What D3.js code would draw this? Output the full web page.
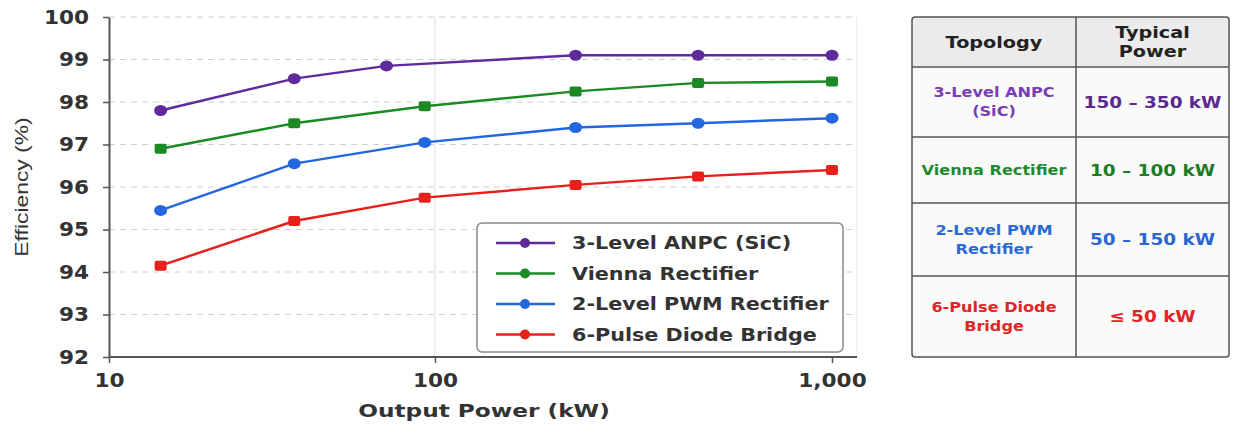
<!DOCTYPE html>
<html>
<head>
<meta charset="utf-8">
<script src="https://cdn.jsdelivr.net/npm/d3@7"></script>
<style>
  html, body { margin: 0; padding: 0; background: #ffffff; }
  svg { display: block; }
</style>
</head>
<body>
<div id="chart"></div>
<script>
/* Rectifier efficiency vs output power + topology table */

// ---- data ----
const seriesNames = ['3-Level ANPC (SiC)', 'Vienna Rectifier', '2-Level PWM Rectifier', '6-Pulse Diode Bridge'];
const seriesColors = ['#5f2a9c', '#1b8a24', '#2266e0', '#e8201c'];
const seriesShapes = ['circle', 'square', 'circle', 'square'];

const powerAnpc  = [14.4, 37, 71, 226, 460, 1000];
const powerOther = [14.4, 37, 93, 226, 460, 1000];

const effAnpc   = [97.8, 98.55, 98.85, 99.1, 99.1, 99.1];
const effVienna = [96.9, 97.5, 97.9, 98.25, 98.45, 98.48];
const effPwm    = [95.45, 96.55, 97.05, 97.4, 97.5, 97.62];
const effDiode  = [94.15, 95.2, 95.75, 96.05, 96.25, 96.4];

const yTicks = [92, 93, 94, 95, 96, 97, 98, 99, 100];
const xTicks = [10, 100, 1000];

const tableHeader = [['Topology'], ['Typical', 'Power']];
const tableTopology = [['3-Level ANPC', '(SiC)'], ['Vienna Rectifier'], ['2-Level PWM', 'Rectifier'], ['6-Pulse Diode', 'Bridge']];
const tablePower = ['150 – 350 kW', '10 – 100 kW', '50 – 150 kW', '≤ 50 kW'];
const tableNameColors = ['#7a3db5', '#1f8a2c', '#2a6ad8', '#e42424'];
const tablePowerColors = ['#5a2a8e', '#1a7d24', '#2a66d4', '#e42424'];

const series = [
  {name: seriesNames[0], x: powerAnpc,  y: effAnpc},
  {name: seriesNames[1], x: powerOther, y: effVienna},
  {name: seriesNames[2], x: powerOther, y: effPwm},
  {name: seriesNames[3], x: powerOther, y: effDiode}
].map((s, i) => ({...s, color: seriesColors[i], shape: seriesShapes[i],
  pts: s.x.map((v, j) => ({x: v, y: s.y[j]}))}));

// ---- layout ----
const W = 1233, H = 425;
const plot = {left: 109, right: 857, top: 17, bottom: 357};

const svg = d3.select('#chart').append('svg').attr('width', W).attr('height', H);
svg.append('rect').attr('width', W).attr('height', H).attr('fill', '#fff');

// the source axis is not evenly spaced per decade, so use a piecewise log scale
const x = d3.scaleLog().domain(xTicks).range([plot.left, 435, 832]);
const y = d3.scaleLinear().domain([92, 100]).range([plot.bottom, plot.top]);

const font = 'DejaVu Sans, sans-serif';

// the reference lettering is wide; stretch glyphs horizontally
function stretch(sel, k) {
  sel.each(function() {
    const w = this.getComputedTextLength();
    this.setAttribute('textLength', w * k);
    this.setAttribute('lengthAdjust', 'spacingAndGlyphs');
  });
}

// grid
const grid = svg.append('g');
grid.selectAll('line.h').data(yTicks.slice(1)).join('line')
  .attr('x1', plot.left).attr('x2', plot.right)
  .attr('y1', d => y(d)).attr('y2', d => y(d))
  .attr('stroke', '#cfcfcf').attr('stroke-width', 1).attr('stroke-dasharray', '6,5');
grid.append('line')
  .attr('x1', x(100)).attr('x2', x(100)).attr('y1', plot.top).attr('y2', plot.bottom)
  .attr('stroke', '#e4e4e4').attr('stroke-width', 1.2);
grid.append('line')
  .attr('x1', plot.right).attr('x2', plot.right).attr('y1', plot.top).attr('y2', plot.bottom)
  .attr('stroke', '#ececec').attr('stroke-width', 1.2);

// axes
const yAxis = svg.append('g').attr('transform', `translate(${plot.left},0)`)
  .call(d3.axisLeft(y).tickValues(yTicks).tickSize(6).tickPadding(14).tickSizeOuter(0));
const xAxis = svg.append('g').attr('transform', `translate(0,${plot.bottom})`)
  .call(d3.axisBottom(x).tickValues(xTicks).tickSize(6).tickPadding(10)
    .tickFormat(d3.format(',')).tickSizeOuter(0));
xAxis.select('.domain').attr('d', `M${plot.left},0H${plot.right}`);
[yAxis, xAxis].forEach(a => {
  a.select('.domain').attr('stroke', '#555').attr('stroke-width', 2);
  a.selectAll('.tick line').attr('stroke', '#555').attr('stroke-width', 1.5);
  a.selectAll('.tick text').attr('fill', '#333').attr('font-family', font)
    .attr('font-weight', 'bold').attr('font-size', 20);
  stretch(a.selectAll('.tick text'), 1.08);
});

// axis titles
svg.append('text').attr('transform', `translate(28,${(plot.top + plot.bottom) / 2}) rotate(-90)`)
  .attr('text-anchor', 'middle').attr('font-family', 'Liberation Sans, Arial, sans-serif')
  .attr('font-size', 18).attr('fill', '#333').text('Efficiency (%)')
  .call(stretch, 1.27);
svg.append('text').attr('x', 484).attr('y', 417)
  .attr('text-anchor', 'middle').attr('font-family', font).attr('font-weight', 600)
  .attr('font-size', 18).attr('fill', '#333').text('Output Power (kW)')
  .call(stretch, 1.29);

// lines + markers
const line = d3.line().x(d => x(d.x)).y(d => y(d.y));

function marker(sel, shape, color) {
  if (shape === 'circle') {
    sel.append('ellipse').attr('rx', 6.5).attr('ry', 5.5).attr('fill', color);
  } else {
    sel.append('rect').attr('x', -6).attr('y', -5)
      .attr('width', 12).attr('height', 10).attr('rx', 2).attr('fill', color);
  }
}

const gs = svg.append('g').selectAll('g').data(series).join('g');
gs.append('path').attr('d', d => line(d.pts)).attr('fill', 'none')
  .attr('stroke', d => d.color).attr('stroke-width', 2.5).attr('stroke-linejoin', 'round');
gs.each(function(s) {
  d3.select(this).selectAll('g.m').data(s.pts).join('g').attr('class', 'm')
    .attr('transform', d => `translate(${x(d.x)},${y(d.y)})`)
    .each(function() { marker(d3.select(this), s.shape, s.color); });
});

// legend
const lg = svg.append('g').attr('transform', 'translate(477,223)');
lg.append('rect').attr('width', 366).attr('height', 129).attr('rx', 5)
  .attr('fill', '#fff').attr('fill-opacity', 0.95).attr('stroke', '#8a8a8a').attr('stroke-width', 1.5);
const li = lg.selectAll('g.item').data(series).join('g').attr('class', 'item')
  .attr('transform', (d, i) => `translate(0,${20 + i * 30.5})`);
li.append('line').attr('x1', 19).attr('x2', 78).attr('stroke', d => d.color).attr('stroke-width', 2.5);
li.append('circle').attr('cx', 48).attr('r', 5).attr('fill', d => d.color);
li.append('text').attr('x', 95).attr('dy', '0.35em').attr('font-family', font)
  .attr('font-weight', 600).attr('font-size', 18).attr('fill', '#333').text(d => d.name)
  .call(stretch, 1.15);

// table
const tb = {left: 912, right: 1229, col: 1076, rows: [17, 67, 137, 203, 276, 357]};
const tg = svg.append('g');
tg.append('rect').attr('x', tb.left).attr('y', tb.rows[0])
  .attr('width', tb.right - tb.left).attr('height', tb.rows[1] - tb.rows[0]).attr('fill', '#ebebeb');
tg.selectAll('rect.row').data(tableTopology).join('rect').attr('class', 'row')
  .attr('x', tb.left).attr('y', (d, i) => tb.rows[i + 1])
  .attr('width', tb.right - tb.left).attr('height', (d, i) => tb.rows[i + 2] - tb.rows[i + 1])
  .attr('fill', '#fafafa');
tg.selectAll('line.rl').data(tb.rows.slice(1, -1)).join('line').attr('class', 'rl')
  .attr('x1', tb.left).attr('x2', tb.right).attr('y1', d => d).attr('y2', d => d)
  .attr('stroke', '#555').attr('stroke-width', 1.5);
tg.append('line').attr('x1', tb.col).attr('x2', tb.col).attr('y1', tb.rows[0]).attr('y2', tb.rows[5])
  .attr('stroke', '#555').attr('stroke-width', 1.5);
tg.append('rect').attr('x', tb.left).attr('y', tb.rows[0])
  .attr('width', tb.right - tb.left).attr('height', tb.rows[5] - tb.rows[0]).attr('rx', 3)
  .attr('fill', 'none').attr('stroke', '#555').attr('stroke-width', 1.5);

function cellText(cx, cy, lines, size, color, lh, k) {
  lines.forEach((s, j) => {
    tg.append('text').attr('text-anchor', 'middle').attr('font-family', font)
      .attr('font-weight', 'bold').attr('font-size', size).attr('fill', color)
      .attr('x', cx).attr('y', cy + (j - (lines.length - 1) / 2) * lh).attr('dy', '0.35em')
      .text(s).call(stretch, k);
  });
}
const c1 = (tb.left + tb.col) / 2, c2 = (tb.col + tb.right) / 2;
cellText(c1, (tb.rows[0] + tb.rows[1]) / 2 + 1, tableHeader[0], 15, '#222', 19, 1.28);
cellText(c2, (tb.rows[0] + tb.rows[1]) / 2, tableHeader[1], 15, '#222', 19, 1.28);
tableTopology.forEach((lines, i) => {
  const cy = (tb.rows[i + 1] + tb.rows[i + 2]) / 2;
  cellText(c1, cy, lines, 14, tableNameColors[i], 19, 1.15);
  cellText(c2, cy, [tablePower[i]], 16, tablePowerColors[i], 19, 1.15);
});
</script>
</body>
</html>
